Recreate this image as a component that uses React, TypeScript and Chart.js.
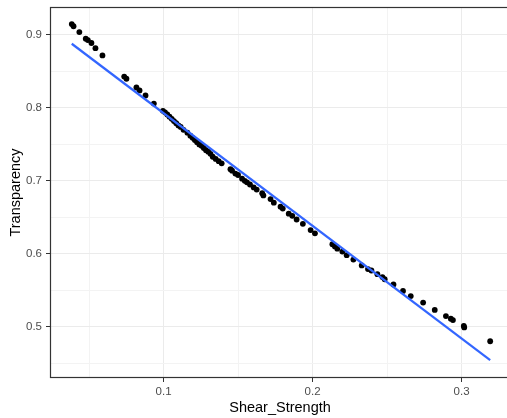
import React, { useEffect, useRef } from "react";
import { Chart, registerables } from "chart.js";

Chart.register(...registerables);

const shearStrength: number[] = [
  0.0384, 0.0396, 0.0435, 0.0478, 0.0492, 0.0516, 0.0543, 0.059, 0.0736, 0.0751,
  0.0818, 0.0839, 0.0879, 0.0935, 0.0996, 0.101, 0.1025, 0.104, 0.1055, 0.107,
  0.1085, 0.11, 0.1115, 0.1134, 0.116, 0.118, 0.1195, 0.121, 0.1225, 0.124,
  0.1255, 0.127, 0.1285, 0.13, 0.1315, 0.133, 0.135, 0.137, 0.139, 0.1449,
  0.146, 0.1482, 0.15, 0.1527, 0.1545, 0.156, 0.158, 0.1605, 0.1625, 0.1662,
  0.167, 0.1718, 0.174, 0.1785, 0.18, 0.184, 0.1864, 0.1893, 0.1935, 0.1987,
  0.2016, 0.2133, 0.215, 0.2166, 0.22, 0.2229, 0.2274, 0.233, 0.2372, 0.2395,
  0.2435, 0.2469, 0.2484, 0.2543, 0.2607, 0.2659, 0.2742, 0.282, 0.2895, 0.2928,
  0.2942, 0.3015, 0.3018, 0.3192,
];

const transparency: number[] = [
  0.915, 0.912, 0.904, 0.895, 0.893, 0.889, 0.882, 0.872, 0.843, 0.84,
  0.828, 0.824, 0.817, 0.806, 0.796, 0.794, 0.791, 0.788, 0.785, 0.782,
  0.779, 0.776, 0.774, 0.77, 0.766, 0.762, 0.759, 0.756, 0.753, 0.75,
  0.748, 0.745, 0.742, 0.74, 0.737, 0.733, 0.73, 0.727, 0.724, 0.716,
  0.714, 0.71, 0.708, 0.703, 0.7, 0.698, 0.695, 0.691, 0.688, 0.683,
  0.68, 0.675, 0.67, 0.6645, 0.662, 0.655, 0.652, 0.647, 0.641, 0.6325,
  0.628, 0.613, 0.61, 0.607, 0.603, 0.598, 0.592, 0.584, 0.579, 0.577,
  0.572, 0.568, 0.565, 0.558, 0.549, 0.542, 0.533, 0.523, 0.5145, 0.511,
  0.509, 0.501, 0.499, 0.48,
];

// fitted line endpoints
const fitX: number[] = [0.0384, 0.3192];
const fitY: number[] = [0.888, 0.454];

const xTicks: number[] = [0.05, 0.1, 0.15, 0.2, 0.25, 0.3];
const yTicks: number[] = [0.45, 0.5, 0.55, 0.6, 0.65, 0.7, 0.75, 0.8, 0.85, 0.9];
const xRange: number[] = [0.0238, 0.3325];
const yRange: number[] = [0.4296, 0.9384];

const isMajor = (v: number) => Math.abs(v * 10 - Math.round(v * 10)) < 1e-6;

const FONT = "'Liberation Sans', Arial, sans-serif";

const borderPlugin = {
  id: "panelBorder",
  afterDraw(chart: any) {
    const { ctx, chartArea } = chart;
    const l = Math.round(chartArea.left) + 0.5;
    const t = Math.round(chartArea.top) + 0.5;
    const b = Math.round(chartArea.bottom) - 0.5;
    const r = Math.round(chartArea.right) - 0.5;
    ctx.save();
    ctx.strokeStyle = "#333333";
    ctx.lineWidth = 1.2;
    ctx.strokeRect(l, t, r - l, b - t);
    ctx.restore();
  },
};

const zeroPad = (s: any) => {
  s.paddingTop = 0;
  s.paddingBottom = 0;
  s.paddingLeft = 0;
  s.paddingRight = 0;
};

export default function App() {
  const ref = useRef<HTMLCanvasElement | null>(null);

  useEffect(() => {
    if (!ref.current) return;
    const points = shearStrength.map((x, i) => ({ x, y: transparency[i] }));
    const line = fitX.map((x, i) => ({ x, y: fitY[i] }));

    const gridColor = (c: any) => (isMajor(c.tick?.value ?? 0) ? "#EBEBEB" : "#F3F3F3");
    const tickColor = (c: any) => (isMajor(c.tick?.value ?? 0) ? "#333333" : "rgba(0,0,0,0)");

    const chart = new Chart(ref.current, {
      type: "scatter",
      data: {
        datasets: [
          {
            data: line,
            showLine: true,
            borderColor: "#3366FF",
            borderWidth: 2.2,
            pointRadius: 0,
            fill: false,
          } as any,
          {
            data: points,
            backgroundColor: "#000000",
            borderColor: "#000000",
            pointRadius: 2.9,
            borderWidth: 0,
          },
        ],
      },
      options: {
        animation: false,
        responsive: false,
        layout: { padding: { top: 7, right: 0, left: 0, bottom: 0 } },
        plugins: { legend: { display: false }, tooltip: { enabled: false } },
        scales: {
          x: {
            type: "linear",
            min: xRange[0],
            max: xRange[1],
            afterBuildTicks: (s: any) => {
              s.ticks = xTicks.map((v) => ({ value: v }));
            },
            afterFit: (s: any) => {
              s.height = 40;
              zeroPad(s);
            },
            border: { display: false },
            grid: {
              color: gridColor,
              lineWidth: 1,
              tickColor: tickColor,
              tickLength: 4,
              drawTicks: true,
            },
            ticks: {
              padding: 3,
              maxRotation: 0,
              autoSkip: false,
              color: "#4D4D4D",
              font: { family: FONT, size: 11.5 },
              callback: (v: any) => (isMajor(Number(v)) ? Number(v).toFixed(1) : ""),
            },
            title: {
              display: true,
              text: "Shear_Strength",
              color: "#000000",
              font: { family: FONT, size: 14.5 },
              padding: { top: 0, bottom: 1 },
            },
          },
          y: {
            type: "linear",
            min: yRange[0],
            max: yRange[1],
            afterBuildTicks: (s: any) => {
              s.ticks = yTicks.map((v) => ({ value: v }));
            },
            afterFit: (s: any) => {
              s.width = 50;
              zeroPad(s);
            },
            border: { display: false },
            grid: {
              color: gridColor,
              lineWidth: 1,
              tickColor: tickColor,
              tickLength: 4,
              drawTicks: true,
            },
            ticks: {
              padding: 4,
              autoSkip: false,
              color: "#4D4D4D",
              font: { family: FONT, size: 11.5 },
              callback: (v: any) => (isMajor(Number(v)) ? Number(v).toFixed(1) : ""),
            },
            title: {
              display: true,
              text: "Transparency",
              color: "#000000",
              font: { family: FONT, size: 14.5 },
              padding: { top: 7, bottom: 0 },
            },
          },
        },
      },
      plugins: [borderPlugin],
    });
    return () => chart.destroy();
  }, []);

  return (
    <div style={{ position: "absolute", left: 0, top: 0, width: 507, height: 418, overflow: "hidden", background: "#ffffff" }}>
      <canvas ref={ref} width={514} height={418} style={{ width: 514, height: 418, display: "block" }} />
    </div>
  );
}
